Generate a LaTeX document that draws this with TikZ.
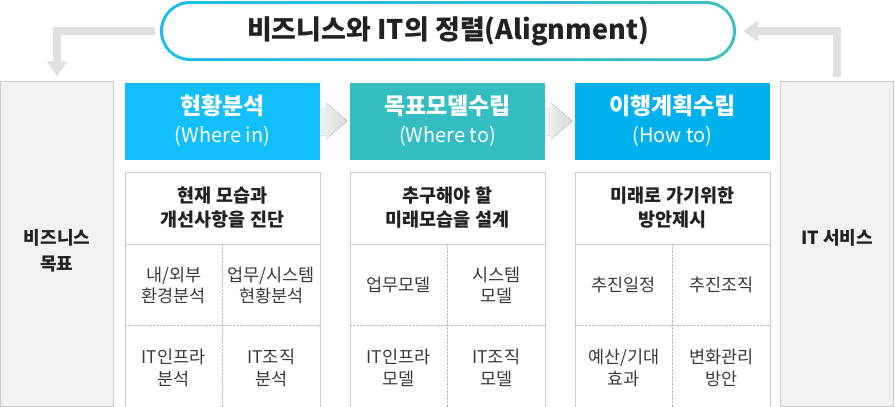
\documentclass[tikz,border=0pt]{standalone}
\usepackage{fontspec}
\setmainfont{Noto Sans CJK KR}
\usetikzlibrary{arrows.meta}
\definecolor{skyhead}{HTML}{12BFFA}
\definecolor{tealhead}{HTML}{35BEC1}
\definecolor{bluehead}{HTML}{00B1EE}
\definecolor{ringleft}{HTML}{1CBCF0}
\definecolor{ringright}{HTML}{3DBFBF}
\definecolor{flowgray}{HTML}{E0E0E0}
\definecolor{sidefill}{HTML}{F2F2F2}
\definecolor{framegray}{HTML}{CCCCCC}
\definecolor{dotgray}{HTML}{BBBBBB}
\definecolor{inktext}{HTML}{222222}
\definecolor{celltext}{HTML}{3A3A3A}

\begin{document}
\begin{tikzpicture}[x=1pt,y=-1pt,
  titlebox/.style={minimum width=576pt, minimum height=60pt, inner sep=0pt, text=inktext,
    font=\fontsize{27}{30}\selectfont\bfseries},
  headbox/.style={minimum width=195pt, minimum height=77pt, inner sep=0pt, text=white,
    align=center, font=\fontsize{23}{28}\selectfont\bfseries},
  databox/.style={draw=framegray, minimum width=195pt, minimum height=235pt, inner sep=0pt},
  deschead/.style={align=center, text=inktext, font=\fontsize{18.5}{24}\selectfont\bfseries},
  cell/.style={align=center, text=celltext, font=\fontsize{17.5}{21.5}\selectfont},
  sidebox/.style={draw=framegray, fill=sidefill, minimum width=113pt, minimum height=325pt, inner sep=0pt},
  sidetext/.style={align=center, text=inktext, font=\fontsize{18}{26}\selectfont\bfseries},
  flow/.style={flowgray, line width=8pt, -{Triangle[width=20pt,length=15pt]}},
  ]
  \useasboundingbox (0,0) rectangle (895,407);

  % Title pill with a colour-graded rim
  \shade[left color=ringleft, right color=ringright, rounded corners=30pt] (160,1) rectangle (736,61);
  \fill[white, rounded corners=27pt] (163,4) rectangle (733,58);
  \node[titlebox] (title) at (448,31) {비즈니스와 IT의 정렬(Alignment)};

  % Side columns
  \node[sidebox] (goal) at (57,244) {};
  \node[sidetext] (goaltext) at (57,250.5) {비즈니스\\목표};
  \node[sidebox] (itsvc) at (837,244) {};
  \node[sidetext] (itsvctext) at (837,237.5) {IT 서비스};

  % Feedback arrows round the title
  \draw[flow, shorten <=5pt, shorten >=5pt] (title.west) -| (goal.north);
  \draw[flow, shorten <=4pt, shorten >=7pt] (itsvc.north) |- (title.east);

  % Three steps: coloured head, then the detail box
  \foreach \i/\x/\col/\kor/\eng/\desc in {
      1/222.5/skyhead/현황분석/Where in/현재 모습과\\개선사항을 진단,
      2/447.5/tealhead/목표모델수립/Where to/추구해야 할\\미래모습을 설계,
      3/672.5/bluehead/이행계획수립/How to/미래로 가기위한\\방안제시} {
    \node[headbox, fill=\col] (head\i) at (\x,121) {\kor\\{\fontsize{20}{28}\selectfont\mdseries(\eng)}};
    \node[databox] (box\i) at (\x,289.5) {};
    \node[deschead] (desc\i) at (\x,207.5) {\desc};
    \draw[framegray] (box\i.west |- 0,244) -- (box\i.east |- 0,244); % under the heading
    \draw[dotgray, densely dotted] (\x,244) -- (box\i.south); % middle split
    \draw[dotgray, densely dotted] (box\i.west |- 0,325.5) -- (box\i.east |- 0,325.5); % row split
  }

  % Chevrons between the heads
  \foreach \a in {1,2} {
    \fill[left color=gray!10, right color=gray!30] (head\a.east) ++(0,-14) -- ++(6,0) -- ++(0,-4)
      -- ++(21,18) -- ++(-21,18) -- ++(0,-4) -- ++(-6,0) -- cycle;
  }

  % Cells, step 1
  \node[cell] (c1a) at (173.75,285.5) {내/외부\\환경분석};
  \node[cell] (c1b) at (271.25,285.5) {업무/시스템\\현황분석};
  \node[cell] (c1c) at (173.75,368) {IT인프라\\분석};
  \node[cell] (c1d) at (271.25,368) {IT조직\\분석};
  % Cells, step 2
  \node[cell] (c2a) at (398.75,284.5) {업무모델};
  \node[cell] (c2b) at (496.25,285.5) {시스템\\모델};
  \node[cell] (c2c) at (398.75,368) {IT인프라\\모델};
  \node[cell] (c2d) at (496.25,368) {IT조직\\모델};
  % Cells, step 3
  \node[cell] (c3a) at (623.75,284.5) {추진일정};
  \node[cell] (c3b) at (721.25,284.5) {추진조직};
  \node[cell] (c3c) at (623.75,368) {예산/기대\\효과};
  \node[cell] (c3d) at (721.25,368) {변화관리\\방안};
\end{tikzpicture}
\end{document}
